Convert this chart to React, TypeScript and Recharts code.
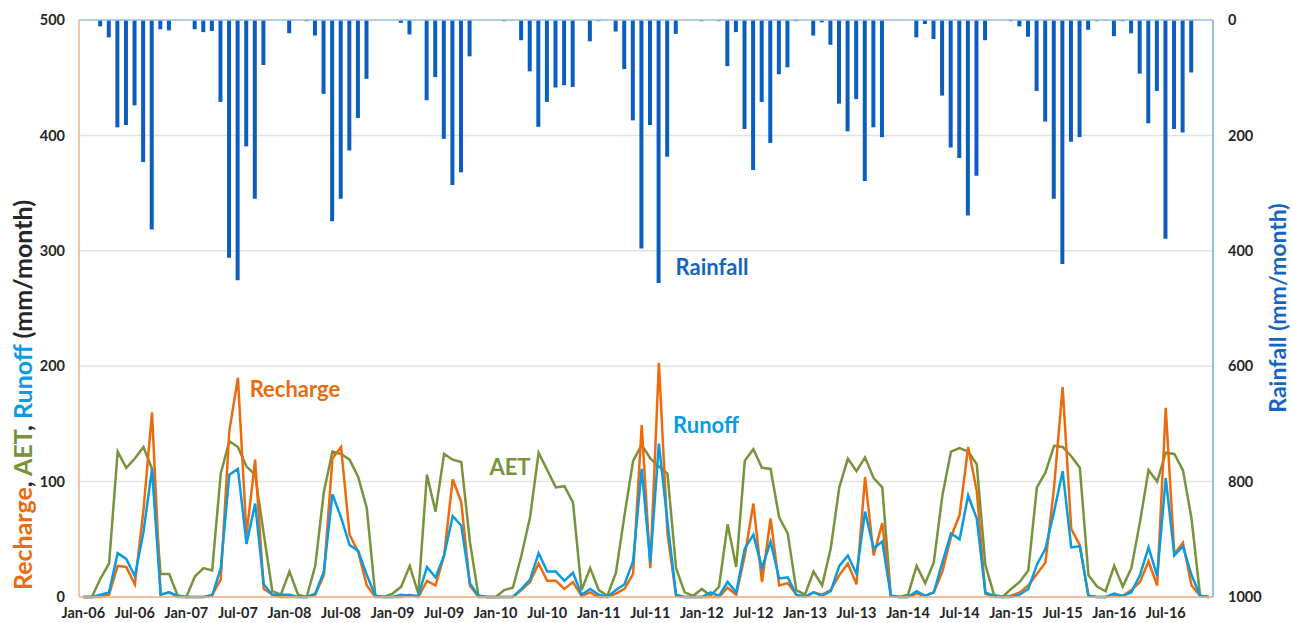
import React from 'react';
import { ComposedChart, Line, Bar, XAxis, YAxis, CartesianGrid, ReferenceLine, Customized } from 'recharts';

const monthNames = ['Jan', 'Feb', 'Mar', 'Apr', 'May', 'Jun', 'Jul', 'Aug', 'Sep', 'Oct', 'Nov', 'Dec'];
const years = ['06', '07', '08', '09', '10', '11', '12', '13', '14', '15', '16'];
const categories = years.flatMap((y) => monthNames.map((m) => `${m}-${y}`));

const xTickLabels = [
  'Jan-06', 'Jul-06', 'Jan-07', 'Jul-07', 'Jan-08', 'Jul-08', 'Jan-09', 'Jul-09', 'Jan-10', 'Jul-10', 'Jan-11',
  'Jul-11', 'Jan-12', 'Jul-12', 'Jan-13', 'Jul-13', 'Jan-14', 'Jul-14', 'Jan-15', 'Jul-15', 'Jan-16', 'Jul-16',
];

const recharge = [
  0, 0, 0, 2, 27, 26, 11, 75, 160, 2, 4, 0,
  0, 0, 0, 2, 15, 144, 190, 54, 119, 7, 2, 0,
  0, 0, 0, 2, 19, 120, 130, 54, 39, 10, 0, 0,
  0, 0, 2, 0, 14, 10, 36, 102, 82, 10, 0, 0,
  0, 0, 0, 6, 13, 29, 14, 14, 7, 13, 1, 4,
  0, 0, 3, 7, 20, 149, 25, 203, 55, 1, 0, 0,
  0, 0, 0, 8, 2, 36, 81, 13, 68, 10, 12, 2,
  0, 4, 2, 6, 19, 29, 11, 104, 36, 64, 1, 0,
  0, 3, 1, 4, 22, 52, 71, 130, 92, 3, 0, 0,
  1, 4, 10, 20, 30, 95, 182, 59, 45, 1, 0, 0,
  2, 1, 6, 13, 31, 10, 164, 37, 47, 10, 1, 0,
];

const aet = [
  0, 0, 16, 29, 126, 112, 120, 130, 111, 20, 20, 1,
  0, 18, 25, 23, 107, 135, 130, 113, 106, 55, 5, 2,
  22, 2, 0, 27, 91, 126, 124, 119, 104, 77, 1, 0,
  3, 9, 27, 3, 106, 74, 124, 119, 117, 48, 1, 0,
  0, 6, 8, 36, 69, 125, 110, 95, 96, 82, 6, 25,
  6, 1, 21, 71, 118, 132, 120, 113, 107, 25, 4, 1,
  7, 1, 9, 63, 26, 118, 128, 112, 111, 69, 55, 6,
  2, 22, 10, 42, 95, 120, 109, 121, 103, 95, 1, 0,
  2, 27, 12, 30, 88, 126, 129, 126, 115, 28, 2, 0,
  7, 13, 23, 95, 108, 131, 130, 122, 112, 19, 9, 5,
  27, 9, 25, 65, 110, 100, 125, 124, 110, 68, 1, 0,
];

const runoff = [
  0, 0, 2, 4, 38, 33, 18, 56, 111, 2, 4, 1,
  0, 0, 0, 1, 25, 106, 111, 46, 81, 11, 2, 2,
  2, 0, 0, 3, 22, 89, 69, 45, 40, 19, 1, 0,
  0, 2, 1, 1, 26, 17, 36, 70, 62, 12, 1, 0,
  0, 0, 0, 7, 15, 38, 22, 22, 14, 21, 2, 7,
  2, 0, 6, 11, 31, 111, 30, 133, 65, 2, 0, 0,
  0, 4, 1, 13, 4, 42, 54, 25, 48, 16, 17, 2,
  0, 4, 1, 5, 27, 36, 20, 74, 42, 48, 1, 0,
  0, 5, 1, 4, 30, 55, 50, 88, 68, 4, 1, 0,
  0, 2, 7, 28, 42, 74, 109, 43, 44, 1, 0, 0,
  3, 1, 4, 19, 43, 18, 103, 36, 44, 19, 1, 0,
];

const rainfall = [
  0, 0, 11, 30, 186, 182, 148, 246, 363, 16, 18, 0,
  0, 16, 21, 19, 142, 412, 451, 219, 310, 78, 0, 0,
  23, 0, 2, 27, 128, 349, 310, 226, 170, 102, 0, 0,
  0, 5, 25, 0, 139, 99, 206, 286, 264, 63, 0, 0,
  0, 2, 1, 35, 89, 185, 142, 117, 113, 116, 0, 37,
  2, 0, 20, 85, 174, 396, 182, 456, 237, 24, 0, 0,
  2, 0, 2, 80, 21, 189, 260, 142, 213, 94, 82, 2,
  0, 27, 4, 43, 145, 193, 137, 279, 186, 203, 0, 0,
  0, 30, 7, 33, 131, 221, 239, 339, 270, 35, 0, 0,
  2, 11, 29, 123, 176, 310, 423, 211, 203, 17, 2, 1,
  28, 2, 23, 93, 179, 123, 379, 189, 195, 91, 0, 0,
];

const leftTicks = [0, 100, 200, 300, 400, 500];
const rightTicks = [0, 200, 400, 600, 800, 1000];
const boundaryTicks = Array.from({ length: 23 }, (_, k) => k * 6);

const data = categories.map((m, i) => ({
  m,
  pos: i + 0.5,
  recharge: recharge[i],
  aet: aet[i],
  runoff: runoff[i],
  rain: rainfall[i],
}));

const ORANGE = '#EC6B0D';
const GREEN = '#77933C';
const BLUE = '#0A9BE0';
const BAR = '#0B5EC0';
const RAIN_TXT = '#1565C0';
const DARK = '#262626';
const FONT = 'Lato, "Open Sans", sans-serif';

const tickStyle = { fontFamily: FONT, fontWeight: 700, fontSize: 14.5, fill: DARK };

const Labels = () => (
  <g style={{ fontFamily: FONT, fontWeight: 700 }}>
    <text
      transform="translate(22,395) rotate(-90)"
      textAnchor="middle"
      dominantBaseline="central"
      fontSize={25}
      style={{ whiteSpace: 'pre' }}
    >
      <tspan fill={ORANGE}>Recharge</tspan>
      <tspan fill={DARK}>, </tspan>
      <tspan fill={GREEN}>AET</tspan>
      <tspan fill={DARK}>, </tspan>
      <tspan fill={BLUE}>Runoff</tspan>
      <tspan fill={DARK}> (mm/month)</tspan>
    </text>
    <text
      transform="translate(1277,308) rotate(-90)"
      textAnchor="middle"
      dominantBaseline="central"
      fontSize={23}
      fill={RAIN_TXT}
    >
      Rainfall (mm/month)
    </text>
    <text x={295} y={388} textAnchor="middle" dominantBaseline="central" fontSize={22} fill={ORANGE}>Recharge</text>
    <text x={510} y={466} textAnchor="middle" dominantBaseline="central" fontSize={22} fill={GREEN}>AET</text>
    <text x={706} y={424} textAnchor="middle" dominantBaseline="central" fontSize={22} fill={BLUE}>Runoff</text>
    <text x={712} y={266} textAnchor="middle" dominantBaseline="central" fontSize={22} fill={RAIN_TXT}>Rainfall</text>
  </g>
);

export default function App() {
  return (
    <div style={{ position: 'absolute', left: 0, top: 0, width: 1292, height: 623, background: '#fff' }}>
      <ComposedChart
        width={1292}
        height={623}
        data={data}
        margin={{ top: 20, right: 0, bottom: 0, left: 0 }}
      >
        <CartesianGrid yAxisId="left" vertical={false} stroke="#E2E2E2" strokeWidth={1.5} />
        <XAxis
          xAxisId="b"
          type="number"
          dataKey="pos"
          domain={[0, 132]}
          ticks={boundaryTicks}
          allowDataOverflow
          tick={false}
          tickLine={{ stroke: '#F4B183' }}
          tickSize={5}
          axisLine={false}
          height={0}
        />
        <XAxis
          dataKey="m"
          ticks={xTickLabels}
          interval={0}
          tickLine={false}
          tickSize={6}
          tickMargin={5}
          axisLine={{ stroke: '#F4B183', strokeWidth: 1.5 }}
          height={26}
          tick={tickStyle}
        />
        <YAxis
          yAxisId="left"
          domain={[0, 500]}
          ticks={leftTicks}
          interval={0}
          width={79}
          tickLine={false}
          tickSize={6}
          tickMargin={8}
          axisLine={{ stroke: '#F4B183', strokeWidth: 1.5 }}
          tick={tickStyle}
        />
        <YAxis
          yAxisId="right"
          orientation="right"
          domain={[0, 1000]}
          ticks={rightTicks}
          interval={0}
          reversed
          width={79}
          tickLine={false}
          tickSize={6}
          tickMargin={9}
          axisLine={{ stroke: '#6FA8DC', strokeWidth: 1.5 }}
          tick={{ ...tickStyle, textAnchor: 'start' }}
        />
        <ReferenceLine yAxisId="right" y={0} stroke="#9DC3E6" strokeWidth={1.5} />
        <Bar yAxisId="right" dataKey="rain" fill={BAR} barSize={4} isAnimationActive={false} />
        <Line yAxisId="left" type="linear" dataKey="aet" stroke={GREEN} strokeWidth={2.5} dot={false} isAnimationActive={false} />
        <Line yAxisId="left" type="linear" dataKey="recharge" stroke={ORANGE} strokeWidth={2.5} dot={false} isAnimationActive={false} />
        <Line yAxisId="left" type="linear" dataKey="runoff" stroke={BLUE} strokeWidth={2.5} dot={false} isAnimationActive={false} />
        <Customized component={Labels} />
      </ComposedChart>
    </div>
  );
}
